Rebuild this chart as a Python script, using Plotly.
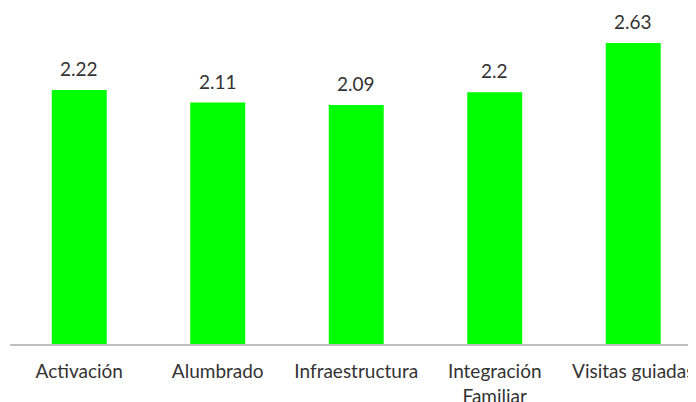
import plotly.graph_objects as go

categories = ["Activación", "Alumbrado", "Infraestructura", "Integración<br>Familiar", "Visitas guiadas"]
values = [2.22, 2.11, 2.09, 2.2, 2.63]
value_labels = ["2.22", "2.11", "2.09", "2.2", "2.63"]

FONT = "Lato"
TXT = "#333333"

fig = go.Figure()
fig.add_trace(go.Bar(
    x=list(range(len(categories))), y=values,
    marker=dict(color="#00FF00", line=dict(width=0)),
    width=0.397,
    hoverinfo="skip",
))

for i, (v, lab) in enumerate(zip(values, value_labels)):
    fig.add_annotation(x=i, y=v, text=lab, showarrow=False,
                       yanchor="bottom", yshift=8,
                       font=dict(family=FONT, size=19, color=TXT))

fig.update_layout(
    width=696, height=402,
    margin=dict(l=2, r=0, t=0, b=66, autoexpand=False),
    paper_bgcolor="white", plot_bgcolor="white",
    showlegend=False,
    xaxis=dict(
        tickmode="array", tickvals=list(range(len(categories))), ticktext=categories,
        range=[-0.5, 4.511], automargin=False,
        showline=True, linecolor="#BFBFBF", linewidth=2,
        showgrid=False, zeroline=False, ticks="",
        ticklabelstandoff=9,
        tickfont=dict(family=FONT, size=19, color=TXT),
    ),
    yaxis=dict(range=[0, 2.937], visible=False, showgrid=False, zeroline=False, automargin=False),
)

fig.write_html("out.html")
